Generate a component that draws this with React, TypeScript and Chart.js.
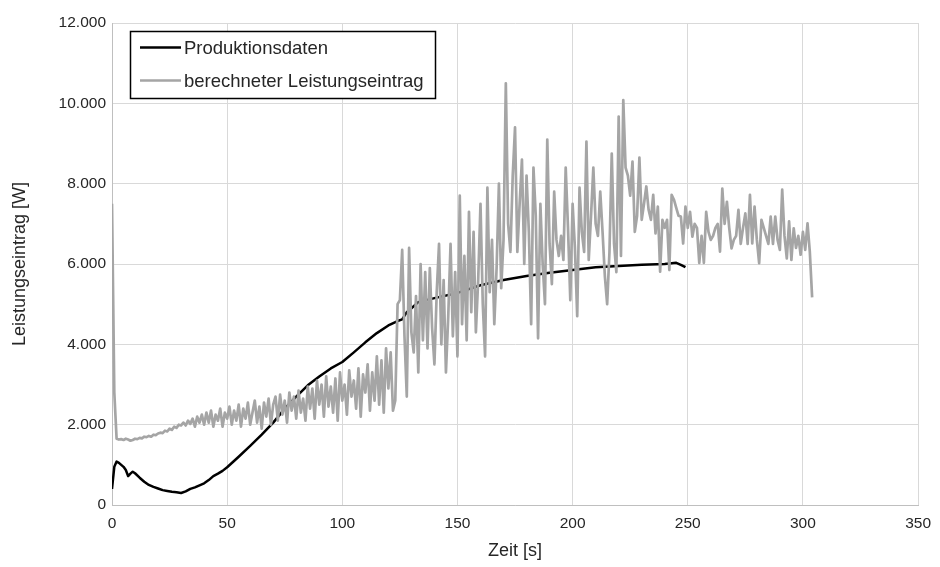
import React, { useEffect, useRef } from 'react';
import { Chart, registerables } from 'chart.js';

Chart.register(...registerables);

// ---- Data ----
const seriesNames = ['Produktionsdaten', 'berechneter Leistungseintrag'];

const xTickValues = [0, 50, 100, 150, 200, 250, 300, 350];
const yTickValues = [0, 2000, 4000, 6000, 8000, 10000, 12000];

// Produktionsdaten: time [s] and power [W]
const prodTime = [
  0, 1, 2, 3, 4, 5, 6, 7, 8, 9, 10, 12, 14, 16, 18, 20, 22, 24, 26, 28,
  30, 32, 34, 36, 38, 40, 42, 44, 46, 48, 50, 55, 60, 65, 70, 75, 80, 85, 90, 95,
  100, 105, 110, 115, 120, 124, 126, 128, 130, 133, 140, 150, 160, 170, 180, 190, 200, 210, 220, 230,
  240, 245, 247, 249,
];
const prodValues = [
  400, 950, 1080, 1050, 1000, 950, 870, 720, 780, 830, 790, 680, 580, 500, 450, 410, 370, 350, 330, 320,
  300, 340, 400, 440, 490, 540, 620, 720, 780, 850, 940, 1200, 1470, 1750, 2050, 2400, 2700, 2980, 3200, 3400,
  3560, 3800, 4050, 4280, 4470, 4580, 4620, 4800, 4900, 5050, 5150, 5280, 5470, 5600, 5700, 5780, 5850, 5920, 5950, 5980,
  6000, 6030, 5980, 5920,
];

// berechneter Leistungseintrag: one value per second, starting at 0 s
const calcStartTime = 0;
const calcStep = 1;
const calcValues = [
  7500, 2800, 1650, 1630, 1640, 1620, 1650, 1630, 1600, 1620, // 0-9
  1650, 1640, 1670, 1660, 1700, 1690, 1720, 1700, 1750, 1740, // 10-19
  1780, 1800, 1790, 1850, 1830, 1900, 1870, 1950, 1920, 2000, // 20-29
  1980, 2050, 1980, 2100, 2020, 2150, 1950, 2200, 2050, 2250, // 30-39
  2000, 2300, 2050, 2350, 1950, 2250, 2100, 2400, 1950, 2300, // 40-49
  2150, 2450, 2000, 2350, 2100, 2500, 1950, 2400, 2150, 2550, // 50-59
  2000, 2300, 2600, 2050, 2450, 1900, 2550, 2200, 2650, 2000, // 60-69
  2500, 2700, 2100, 2750, 2250, 2600, 2050, 2800, 2350, 2700, // 70-79
  2150, 2850, 2300, 2650, 2100, 2950, 2400, 2900, 2150, 3100, // 80-89
  2500, 3000, 2200, 3200, 2450, 2950, 2300, 3150, 2100, 3300, // 90-99
  2600, 3000, 2250, 3350, 2700, 3100, 2400, 3400, 2200, 3250, // 100-109
  2800, 3500, 2350, 3300, 2600, 3700, 2500, 3600, 2300, 3900, // 110-119
  2900, 3800, 2350, 2600, 5000, 5100, 6350, 4200, 2700, 6400, // 120-129
  4300, 3800, 5200, 3300, 6000, 4100, 5800, 3900, 5900, 4400, // 130-139
  3500, 5300, 6500, 4000, 5600, 3300, 4700, 6500, 4200, 5800, // 140-149
  3700, 7700, 4500, 6200, 4100, 7300, 4800, 6800, 4300, 5600, // 150-159
  7500, 5000, 3700, 7900, 5300, 6600, 4500, 5900, 8000, 5400, // 160-169
  6600, 10500, 7000, 6300, 8200, 9400, 6300, 7500, 8600, 6000, // 170-179
  8200, 6800, 4500, 8400, 7200, 4150, 7500, 6000, 5000, 9100, // 180-189
  6500, 5500, 7800, 6600, 6200, 6700, 6100, 8400, 6900, 5100, // 190-199
  7500, 6400, 4700, 7900, 6800, 6300, 9050, 6100, 7200, 8400, // 200-209
  7000, 6700, 7800, 6800, 5700, 5000, 6300, 8750, 6500, 5800, // 210-219
  9670, 6200, 10080, 8400, 8200, 7700, 8550, 6800, 7200, 8650, // 220-229
  7100, 7500, 7930, 7350, 7100, 7720, 6760, 7430, 5810, 7100, // 230-239
  6900, 7100, 5850, 7720, 7600, 7400, 7200, 7180, 6510, 7430, // 240-249
  6900, 7300, 6680, 7000, 6900, 6030, 6700, 6030, 7300, 6800, // 250-259
  6600, 6700, 6900, 7000, 6310, 7880, 7000, 7550, 6900, 6390, // 260-269
  6600, 6700, 7350, 6500, 6900, 7260, 6500, 7720, 6510, 7430, // 270-279
  6600, 6020, 7100, 6900, 6700, 6500, 7180, 6500, 7180, 6600, // 280-289
  6350, 7850, 6700, 6140, 7060, 6100, 6890, 6400, 6700, 6230, // 290-299
  6800, 6350, 7010, 6300, 5170, // 300-304
];

// ---- Styles ----
const FONT = "'Liberation Sans', Arial, sans-serif";
const TEXT = '#262626';
const BLACK = '#000000';
const GRAY = '#a5a5a5';

const fmtDe = (v: number) => String(v).replace(/\B(?=(\d{3})+(?!\d))/g, '.');

const boxLegend = {
  id: 'boxLegend',
  afterDraw(chart: any) {
    const ctx = chart.ctx as CanvasRenderingContext2D;
    const x = 130.5, y = 31.5, w = 305, h = 67;
    ctx.save();
    ctx.fillStyle = '#ffffff';
    ctx.fillRect(x, y, w, h);
    ctx.strokeStyle = '#000000';
    ctx.lineWidth = 1.5;
    ctx.strokeRect(x, y, w, h);
    const rows = [
      { label: seriesNames[0], color: BLACK, cy: 47.5 },
      { label: seriesNames[1], color: GRAY, cy: 80.5 },
    ];
    ctx.font = `18.5px ${FONT}`;
    ctx.textBaseline = 'middle';
    ctx.textAlign = 'left';
    for (const r of rows) {
      ctx.strokeStyle = r.color;
      ctx.lineWidth = 2.5;
      ctx.beginPath();
      ctx.moveTo(140, r.cy);
      ctx.lineTo(181, r.cy);
      ctx.stroke();
      ctx.fillStyle = TEXT;
      ctx.fillText(r.label, 184, r.cy + 1);
    }
    ctx.restore();
  },
};

export default function App() {
  const ref = useRef<HTMLCanvasElement | null>(null);

  useEffect(() => {
    if (!ref.current) return;
    const prodData = prodTime.map((t, i) => ({ x: t, y: prodValues[i] }));
    const calcData = calcValues.map((v, i) => ({ x: calcStartTime + i * calcStep, y: v }));

    const chart = new Chart(ref.current, {
      type: 'line',
      data: {
        datasets: [
          {
            label: seriesNames[0],
            data: prodData,
            borderColor: BLACK,
            backgroundColor: BLACK,
            borderWidth: 2.5,
            pointRadius: 0,
            tension: 0,
            borderJoinStyle: 'round',
            order: 1,
          },
          {
            label: seriesNames[1],
            data: calcData,
            borderColor: GRAY,
            backgroundColor: GRAY,
            borderWidth: 2.7,
            pointRadius: 0,
            tension: 0,
            borderJoinStyle: 'round',
            order: 0,
          },
        ],
      },
      options: {
        animation: false,
        responsive: false,
        maintainAspectRatio: false,
        layout: { padding: { left: 0, right: 20, top: 23, bottom: 0 } },
        plugins: {
          legend: { display: false },
          tooltip: { enabled: false },
        },
        scales: {
          x: {
            type: 'linear',
            min: 0,
            max: 350,
            afterBuildTicks: (scale: any) => {
              scale.ticks = xTickValues.map((v) => ({ value: v }));
            },
            afterFit: (scale: any) => {
              scale.height = 62;
            },
            ticks: {
              color: TEXT,
              font: { family: FONT, size: 15.5 },
              padding: 9,
              maxRotation: 0,
              callback: (v: any) => String(v),
            },
            grid: { color: '#d9d9d9', lineWidth: 1, drawTicks: false },
            border: { color: '#bfbfbf', width: 1 },
            title: {
              display: true,
              text: 'Zeit [s]',
              color: TEXT,
              font: { family: FONT, size: 18 },
              padding: { top: 0, bottom: 5 },
            },
          },
          y: {
            type: 'linear',
            min: 0,
            max: 12000,
            afterBuildTicks: (scale: any) => {
              scale.ticks = yTickValues.map((v) => ({ value: v }));
            },
            afterFit: (scale: any) => {
              scale.width = 112;
            },
            ticks: {
              color: TEXT,
              font: { family: FONT, size: 15.5 },
              padding: 6,
              callback: (v: any) => fmtDe(Number(v)),
            },
            grid: { color: '#d9d9d9', lineWidth: 1, drawTicks: false },
            border: { color: '#bfbfbf', width: 1 },
            title: {
              display: true,
              text: 'Leistungseintrag [W]',
              color: TEXT,
              font: { family: FONT, size: 18 },
              padding: { top: 9, bottom: 0 },
            },
          },
        },
      },
      plugins: [boxLegend],
    } as any);

    return () => chart.destroy();
  }, []);

  return (
    <div style={{ position: 'fixed', left: 0, top: 0, width: 940, height: 567, background: '#ffffff' }}>
      <canvas ref={ref} width={940} height={567} style={{ width: 940, height: 567, display: 'block' }} />
    </div>
  );
}
